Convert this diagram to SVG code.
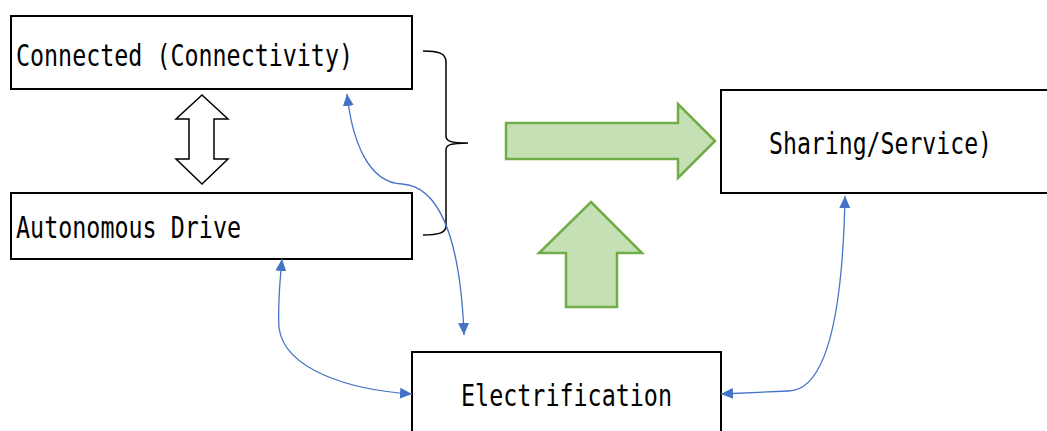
<svg xmlns="http://www.w3.org/2000/svg" width="1047" height="431" viewBox="0 0 1047 431">
  <style>
    .box { fill: #ffffff; stroke: #000000; stroke-width: 2; }
    .label { font-family: "DejaVu Sans Mono", "Liberation Mono", monospace; font-size: 30px; fill: #000000; }
    .fat { fill: #C5E0B4; stroke: #70AD47; stroke-width: 2.5; stroke-linejoin: miter; }
    .hollow { fill: #ffffff; stroke: #000000; stroke-width: 1.5; }
    .brace { fill: none; stroke: #000000; stroke-width: 1.5; }
    .link { fill: none; stroke: #4472C4; stroke-width: 1.3; marker-start: url(#tipStart); marker-end: url(#tipEnd); }
  </style>
  <defs>
    <marker id="tipEnd" viewBox="0 0 12 12" refX="12" refY="6" markerWidth="12" markerHeight="12" markerUnits="userSpaceOnUse" orient="auto">
      <path d="M0,0.5 L12,6 L0,11.5 Z" fill="#4472C4"/>
    </marker>
    <marker id="tipStart" viewBox="0 0 12 12" refX="0" refY="6" markerWidth="12" markerHeight="12" markerUnits="userSpaceOnUse" orient="auto">
      <path d="M12,0.5 L0,6 L12,11.5 Z" fill="#4472C4"/>
    </marker>
  </defs>

  <g id="connected">
    <rect class="box" x="11" y="16" width="401" height="73"/>
    <text class="label" x="16" y="66" textLength="337" lengthAdjust="spacingAndGlyphs">Connected (Connectivity)</text>
  </g>

  <g id="autonomous">
    <rect class="box" x="11" y="193" width="401" height="66"/>
    <text class="label" x="16" y="238" textLength="225" lengthAdjust="spacingAndGlyphs">Autonomous Drive</text>
  </g>

  <!-- box runs past the right border of the canvas -->
  <g id="sharing">
    <path class="box" d="M1047,90 L721,90 L721,193 L1047,193"/>
    <text class="label" x="769" y="154" textLength="223" lengthAdjust="spacingAndGlyphs">Sharing/Service)</text>
  </g>

  <!-- box runs past the bottom border of the canvas -->
  <g id="electrification">
    <path class="box" d="M412,431 L412,352 L721,352 L721,431"/>
    <text class="label" x="461" y="406" textLength="211" lengthAdjust="spacingAndGlyphs">Electrification</text>
  </g>

  <!-- two-way hollow arrow between the upper boxes -->
  <g id="exchange">
    <path class="hollow" d="M202,95 L228,119 L214,119 L214,159 L228,159 L202,184 L176,159 L189,159 L189,119 L176,119 Z"/>
  </g>

  <!-- curly brace grouping the two upper boxes -->
  <g id="group-brace">
    <path class="brace" d="M423,51 C438,51 446,53 446,62 L446,136 C446,141 450,143 468,143 C450,143 446,145 446,150 L446,226 C446,233 438,235 423,235"/>
  </g>

  <!-- block arrows toward the service box -->
  <g id="flow-arrows">
    <path class="fat" d="M506,123 L678,123 L678,104 L715,141 L678,178 L678,159 L506,159 Z"/>
    <path class="fat" d="M591,202 L642,253 L617,253 L617,307 L566,307 L566,253 L539,253 Z"/>
  </g>

  <g id="connectors">
    <path class="link" d="M347,94 C352,140 368,183 402,184 C436,186 460,230 464,335"/>
    <path class="link" d="M282,259 C279,290 278,312 279,328 C285,370 350,390 412,394"/>
    <path class="link" d="M845,196 C843,300 830,391 788,391 L721,394"/>
  </g>
</svg>
